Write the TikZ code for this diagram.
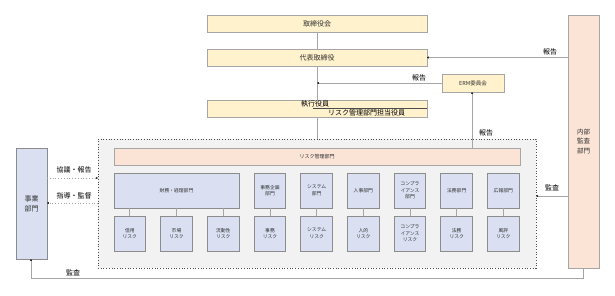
\documentclass[tikz,border=0pt]{standalone}
\usepackage{fontspec}
\setmainfont{Noto Sans CJK JP}
\usetikzlibrary{arrows.meta,calc}
\definecolor{ybox}{HTML}{FFF2CC}
\definecolor{bbox}{HTML}{DAE0F2}
\definecolor{pbox}{HTML}{FBE3D6}
\definecolor{cbox}{HTML}{F2F2F2}
\definecolor{edge}{HTML}{A6A6A6}
\definecolor{bedge}{HTML}{8C8C8C}
\definecolor{txt}{HTML}{303030}
\pgfdeclarelayer{background}
\pgfsetlayers{background,main}
\tikzset{
  x=1pt,y=-1pt,
  every node/.style={inner sep=0pt,outer sep=0pt,text=txt},
  ybx/.style={draw=edge,fill=ybox,line width=0.8pt,font=\fontsize{7}{8}\selectfont},
  bbx/.style={draw=bedge,fill=bbox,line width=0.8pt,minimum width=31.7,minimum height=35,align=center,font=\fontsize{4.8}{6.5}\selectfont},
  pbx/.style={draw=edge,fill=pbox,line width=0.8pt},
  conn/.style={draw=edge,line width=0.7pt},
  arr/.style={conn,-{Stealth[length=2pt,width=2pt,black]}},
  dotl/.style={draw=edge,line width=0.8pt,dotted},
  lbl/.style={font=\fontsize{7}{8}\selectfont,text=black},
}
\begin{document}
\begin{tikzpicture}
\useasboundingbox (0,0) rectangle (615,295);
% container
\node[draw=black!70,fill=cbox,dotted,line width=0.7pt,minimum width=438,minimum height=129] (cont) at (317,203.5) {};
% top boxes
\node[ybx,minimum width=220,minimum height=17] (board) at (317,23.5) {取締役会};
\node[ybx,minimum width=220,minimum height=17] (ceo) at (317,57.5) {代表取締役};
\node[ybx,minimum width=220,minimum height=17] (exec) at (317,108.5) {};
\node[lbl,anchor=base west,font=\fontsize{7}{8}\selectfont] (execA) at (301,106) {執行役員};
\node[lbl,anchor=base west,font=\fontsize{7}{8}\selectfont] (execB) at (328,115) {リスク管理部門担当役員};
\coordinate (ulA) at (313,108);
\coordinate (ulB) at (427,108);
\draw[black!70,line width=0.6pt] (ulA) -- (ulB);
\node[ybx,minimum width=62,minimum height=18,font=\fontsize{5.5}{7}\selectfont] (erm) at (473,83) {ERM委員会};
% internal audit
\node[pbx,minimum width=31,minimum height=253,align=center,font=\fontsize{6.5}{9.5}\selectfont] (audit) at (583.5,141.5) {内部\\監査\\部門};
% business division
\node[bbx,minimum width=31,minimum height=111,font=\fontsize{7}{10}\selectfont] (biz) at (31.5,203.5) {事業\\部門};
% risk management bar
\node[pbx,minimum width=406,minimum height=17,font=\fontsize{5}{6}\selectfont] (rm) at (317,156.5) {リスク管理部門};
% departments
\node[bbx,minimum width=125] (fin) at (176.5,190.5) {財務・経理部門};
\node[bbx] (jim) at (270,190.5) {事務企画\\部門};
\node[bbx] (sys) at (316.7,190.5) {システム\\部門};
\node[bbx] (hr) at (363.3,190.5) {人事部門};
\node[bbx] (comp) at (410,190.5) {コンプラ\\イアンス\\部門};
\node[bbx] (law) at (456.7,190.5) {法務部門};
\node[bbx] (pr) at (503.3,190.5) {広報部門};
% risks
\node[bbx] (r1) at (129.8,233.5) {信用\\リスク};
\node[bbx] (r2) at (176.5,233.5) {市場\\リスク};
\node[bbx] (r3) at (223.2,233.5) {流動性\\リスク};
\node[bbx] (r4) at (270,233.5) {事務\\リスク};
\node[bbx] (r5) at (316.7,233.5) {システム\\リスク};
\node[bbx] (r6) at (363.3,233.5) {人的\\リスク};
\node[bbx] (r7) at (410,233.5) {コンプラ\\イアンス\\リスク};
\node[bbx] (r8) at (456.7,233.5) {法務\\リスク};
\node[bbx] (r9) at (503.3,233.5) {風評\\リスク};
% connectors dept-risk
\foreach \r in {r1,r2,r3} {\draw[conn] (\r.north |- fin.south) -- (\r.north);}
\draw[conn] (jim) -- (r4);
\draw[conn] (sys) -- (r5);
\draw[conn] (hr) -- (r6);
\draw[conn] (comp) -- (r7);
\draw[conn] (law) -- (r8);
\draw[conn] (pr) -- (r9);
% main spine behind boxes
\begin{pgfonlayer}{background}
\draw[conn] (board.south) -- (rm.north);
\end{pgfonlayer}
% reports
\draw[arr] (audit.west |- ceo.east) -- (ceo.east);
\node[lbl,anchor=south] (l1) at (550,55) {報告};
\coordinate (spine) at (317,83);
\draw[arr] (erm.west) -- (spine);
\node[lbl,anchor=south] (l2) at (419,81) {報告};
\coordinate (ermfoot) at (472,148);
\draw[arr] (ermfoot) -- (ermfoot |- erm.south);
\node[lbl] (l3) at (486,133) {報告};
% audit to container
\coordinate (a1) at (568,196);
\draw[arr] (a1) -- (cont.east |- a1);
\node[lbl] (l4) at (552,187.5) {監査};
% business division links
\coordinate (b1) at (47,178);
\coordinate (b2) at (47,203);
\draw[dotl,-{Stealth[length=2pt,width=2pt,black]}] (b1) -- (cont.west |- b1);
\draw[dotl,-{Stealth[length=2pt,width=2pt,black]}] (cont.west |- b2) -- (b2);
\node[lbl] (l5) at (74,170) {協議・報告};
\node[lbl] (l6) at (74,195.5) {指導・監督};
% bottom audit line
\coordinate (c1) at (583,278);
\coordinate (c2) at (31,278);
\draw[arr] (audit.south -| c1) -- (c1) -- (c2) -- (biz.south -| c2);
\node[lbl] (l7) at (73,272.5) {監査};
\end{tikzpicture}
\end{document}
